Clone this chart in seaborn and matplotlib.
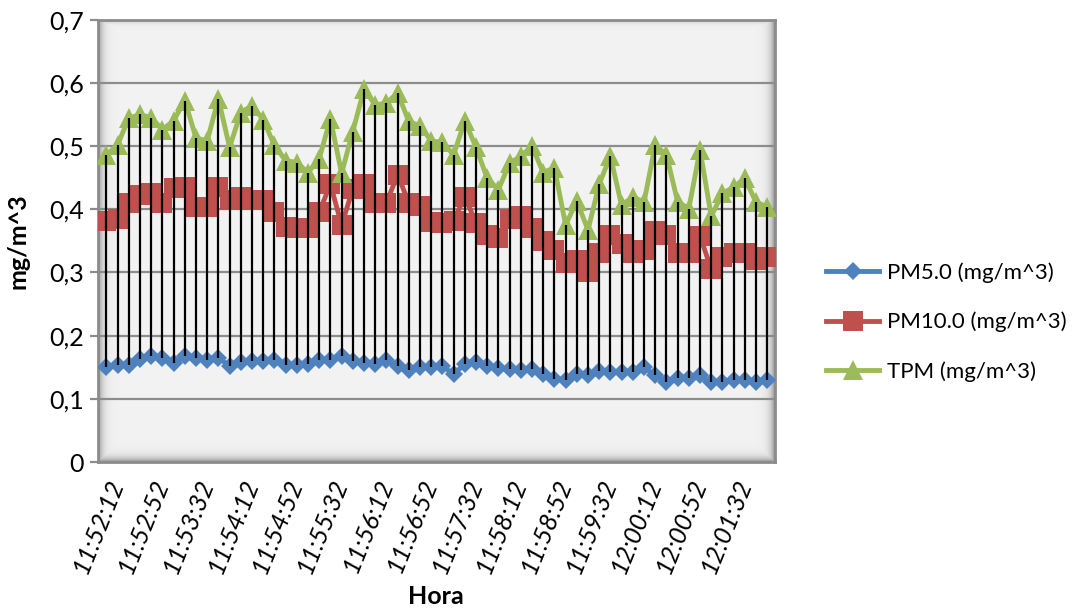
import numpy as np
import pandas as pd
import matplotlib
matplotlib.use('Agg')
import matplotlib.pyplot as plt
import seaborn as sns

# PM readings every 10 s from 11:52:12 on (60 samples)
pm5 = [0.151, 0.154, 0.153, 0.163, 0.168, 0.165, 0.156, 0.167, 0.165, 0.162,
       0.165, 0.152, 0.158, 0.160, 0.160, 0.161, 0.153, 0.153, 0.155, 0.162,
       0.161, 0.168, 0.160, 0.156, 0.155, 0.161, 0.152, 0.146, 0.151, 0.151,
       0.152, 0.139, 0.155, 0.158, 0.152, 0.148, 0.147, 0.146, 0.147, 0.139,
       0.131, 0.129, 0.139, 0.138, 0.144, 0.142, 0.143, 0.142, 0.150, 0.137,
       0.127, 0.133, 0.133, 0.137, 0.126, 0.126, 0.130, 0.129, 0.126, 0.130]
pm10 = [0.381, 0.385, 0.410, 0.422, 0.425, 0.410, 0.433, 0.435, 0.404, 0.404,
        0.435, 0.415, 0.420, 0.415, 0.415, 0.395, 0.372, 0.370, 0.370, 0.395,
        0.440, 0.375, 0.432, 0.440, 0.410, 0.410, 0.455, 0.410, 0.405, 0.380,
        0.378, 0.382, 0.420, 0.378, 0.360, 0.355, 0.385, 0.390, 0.370, 0.350,
        0.335, 0.315, 0.320, 0.300, 0.330, 0.360, 0.345, 0.330, 0.335, 0.365,
        0.360, 0.330, 0.330, 0.358, 0.305, 0.325, 0.330, 0.330, 0.320, 0.325]
tpm = [0.486, 0.502, 0.544, 0.550, 0.545, 0.526, 0.540, 0.572, 0.513, 0.508,
       0.575, 0.498, 0.553, 0.564, 0.542, 0.501, 0.477, 0.474, 0.458, 0.480,
       0.543, 0.457, 0.523, 0.590, 0.565, 0.568, 0.584, 0.539, 0.532, 0.508,
       0.506, 0.486, 0.540, 0.498, 0.449, 0.431, 0.473, 0.484, 0.500, 0.458,
       0.466, 0.375, 0.413, 0.367, 0.440, 0.484, 0.406, 0.420, 0.411, 0.502,
       0.486, 0.412, 0.401, 0.494, 0.389, 0.425, 0.435, 0.449, 0.411, 0.404]

tick_labels = ['11:52:12', '11:52:52', '11:53:32', '11:54:12', '11:54:52',
               '11:55:32', '11:56:12', '11:56:52', '11:57:32', '11:58:12',
               '11:58:52', '11:59:32', '12:00:12', '12:00:52', '12:01:32']
y_ticks = [0, 0.1, 0.2, 0.3, 0.4, 0.5, 0.6, 0.7]
y_ticklabels = ['0', '0,1', '0,2', '0,3', '0,4', '0,5', '0,6', '0,7']

series = ['PM5.0 (mg/m^3)', 'PM10.0 (mg/m^3)', 'TPM (mg/m^3)']
colors = ['#4F81BD', '#C0504D', '#9BBB59']
markers = ['D', 's', '^']
msizes = [9.5, 15, 14]

plt.rcParams['font.family'] = ['Lato', 'DejaVu Sans']
fs = 18

df = pd.DataFrame({'idx': np.arange(len(pm5)), series[0]: pm5,
                   series[1]: pm10, series[2]: tpm})

fig = plt.figure(figsize=(10.79, 6.16), dpi=100)
ax = fig.add_axes([0.0908, 0.25, 0.627, 0.718])
ax.set_facecolor('#f2f2f2')

# inner shadow of the plot area (excel look)
H, W = 442, 677
yy, xx = np.mgrid[0:H, 0:W]
d = np.minimum.reduce([xx, W - 1 - xx, (H - 1 - yy) * 1.0, yy * 2.0])
shade = np.zeros((H, W, 4))
shade[..., :3] = 0.45
shade[..., 3] = 0.75 * np.exp(-d / 4.0)
ax.imshow(shade, extent=[0, 1, 0, 1], transform=ax.transAxes, aspect='auto', zorder=0.5)

for y in y_ticks[1:]:
    ax.axhline(y, color='#8c8c8c', lw=1.6, zorder=1)

for name, c, m, ms in zip(series, colors, markers, msizes):
    sns.lineplot(data=df, x='idx', y=name, color=c, marker=m, markersize=ms,
                 markeredgewidth=0, linewidth=3.5, label=name, ax=ax, zorder=3)

# high-low lines
ax.vlines(df['idx'], df[series].min(axis=1), df[series].max(axis=1),
          color='black', lw=1.6, zorder=5)

ax.set_xlim(-0.75, 59.65)
ax.set_ylim(0, 0.7)
ax.set_yticks(y_ticks)
ax.set_yticklabels(y_ticklabels, fontsize=fs)
ax.set_xticks(np.arange(0, 60, 4))
ax.set_xticklabels(tick_labels, fontsize=fs, style='italic', rotation=68,
                   ha='right', rotation_mode='anchor')
ax.tick_params(axis='x', length=0, pad=10)
ax.tick_params(axis='y', length=6, color='#8c8c8c', width=1.6, pad=4)
for s in ax.spines.values():
    s.set_color('#8c8c8c')
    s.set_linewidth(2)

ax.set_xlabel('Hora', fontsize=fs, fontweight='bold', labelpad=6)
ax.set_ylabel('mg/m^3', fontsize=fs, fontweight='bold', labelpad=14)

ax.get_legend().remove()
h, l = ax.get_legend_handles_labels()
fig.legend(h, l, loc='center left', bbox_to_anchor=(0.747, 0.477), frameon=False,
           fontsize=16, handlelength=2.4, labelspacing=1.3, handletextpad=0.35)

fig.savefig('out.png', dpi=100)
